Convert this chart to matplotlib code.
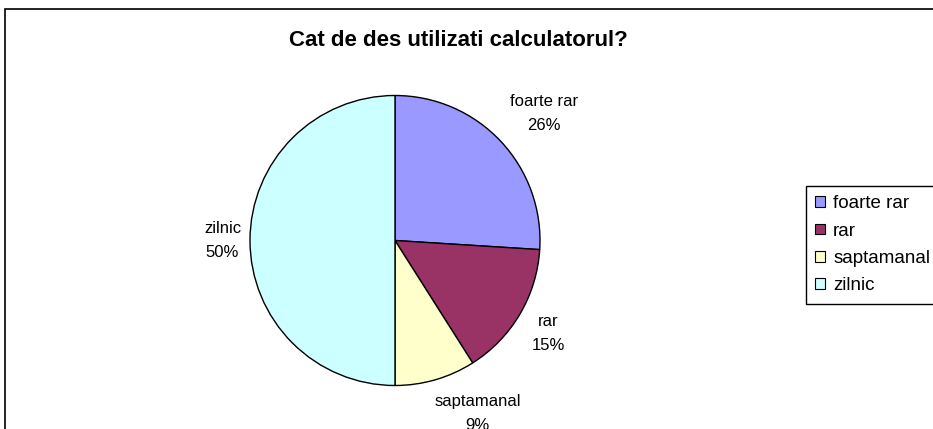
import matplotlib.pyplot as plt
import matplotlib.patches as mpatches
import numpy as np

plt.rcParams['font.family'] = ['Liberation Sans', 'DejaVu Sans']

categories = ["foarte rar", "rar", "saptamanal", "zilnic"]
values = [26, 15, 9, 50]
colors = ["#9999FF", "#993366", "#FFFFCC", "#CCFFFF"]
title = "Cat de des utilizati calculatorul?"

W, H = 933, 429
fig = plt.figure(figsize=(W / 100, H / 100), dpi=100)

# chart frame (runs off the right and bottom like the screenshot)
frame = mpatches.Rectangle((5 / W, -0.1), 1.2, 1 - 9 / H + 0.1,
                           transform=fig.transFigure, fill=False,
                           edgecolor="black", linewidth=1.2)
fig.patches.append(frame)

fig.text(458 / W, 1 - 40 / H, title, ha="center", va="center",
         fontsize=16, fontweight="bold")

# pie axes: centre ~ (395, 240), radius ~145 px
cx, cy, r = 395, 240.5, 145
ax = fig.add_axes([(cx - r) / W, (H - cy - r) / H, 2 * r / W, 2 * r / H])
wedges, _ = ax.pie(values, colors=colors, startangle=90, counterclock=False,
                   wedgeprops=dict(edgecolor="black", linewidth=1))
ax.set_xlim(-1, 1)
ax.set_ylim(-1, 1)
ax.set_aspect("equal")
for w in wedges:
    w.set_clip_on(False)

total = sum(values)
# distance from centre (in radii) and nudge in pixels, like Excel places them
label_dist = [1.35, 1.23, 1.30, 1.19]
label_nudge = [(6, -7), (0, -2), (30, 8), (0, 0)]
for w, name, v, d, nd in zip(wedges, categories, values, label_dist, label_nudge):
    ang = np.deg2rad((w.theta1 + w.theta2) / 2)
    ax.annotate(f"{name}\n{round(100 * v / total)}%",
                xy=(d * np.cos(ang), d * np.sin(ang)),
                xytext=nd, textcoords="offset pixels",
                ha="center", va="center", fontsize=12, linespacing=1.75,
                annotation_clip=False)

handles = [mpatches.Patch(facecolor=c, edgecolor="black", linewidth=0.8)
           for c in colors]
fig.legend(handles, categories, loc="upper left",
           bbox_to_anchor=(806 / W, 1 - 186 / H), fontsize=13.5,
           frameon=True, fancybox=False, edgecolor="black", framealpha=1,
           handlelength=0.5, handleheight=0.5, handletextpad=0.45,
           labelspacing=0.55, borderpad=0.5, borderaxespad=0)

fig.savefig("out.png", dpi=100)
